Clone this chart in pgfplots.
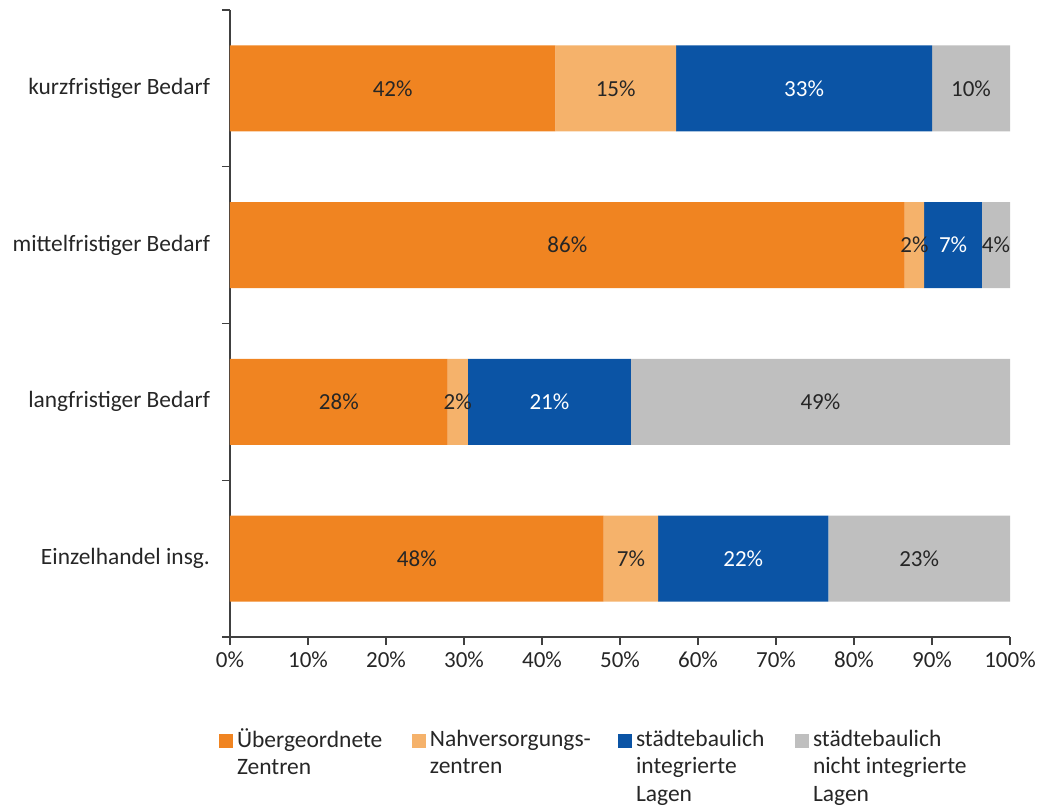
\documentclass[border=0pt]{standalone}
\usepackage{pgfplots}
\pgfplotsset{compat=1.18}
\usepackage{fontspec}
\setmainfont{Carlito}
\definecolor{cOr}{RGB}{240,132,33}
\definecolor{cLo}{RGB}{245,178,107}
\definecolor{cBl}{RGB}{11,84,165}
\definecolor{cGr}{RGB}{191,191,191}
\begin{document}
\begin{tikzpicture}
\path[use as bounding box] (0,0) rectangle (519.5pt,404.5pt);
\begin{axis}[
  at={(115pt,86pt)}, anchor=south west,
  scale only axis, width=390pt, height=313.5pt,
  xbar stacked, bar width=43pt,
  xmin=0, xmax=100, ymin=0.5, ymax=4.5,
  axis x line*=bottom, axis y line*=left,
  axis line style={black!75, line width=0.6pt},
  xtick={0,10,...,100},
  xticklabel={\pgfmathprintnumber{\tick}\%},
  ytick={1,2,3,4},
  yticklabels={Einzelhandel insg., langfristiger Bedarf, mittelfristiger Bedarf, kurzfristiger Bedarf},
  minor ytick={0.5,1.5,2.5,3.5,4.5},
  every major y tick/.style={draw=none},
  tick align=outside,
  major tick length=4pt, minor tick length=4pt,
  tick style={black!75, line width=0.6pt},
  yticklabel style={xshift=-2.5pt, font=\fontsize{11.7}{14}\selectfont},
  xticklabel style={font=\fontsize{11.5}{14}\selectfont},
  ticklabel style={text=black!85},
  /pgf/number format/assume math mode=true,
  point meta=explicit symbolic,
  nodes near coords={\pgfplotspointmeta\%},
  every node near coord/.append style={font=\fontsize{11.5}{14}\selectfont, text=black!85},
  legend columns=4,
  legend style={draw=none, fill=none, inner sep=0pt, outer sep=0pt,
    at={(rel axis cs:-0.0141,-0.146)}, anchor=north west,
    font=\fontsize{11.75}{13.75}\selectfont,
    nodes={inner xsep=0pt, inner ysep=0pt, text=black!85},
    /tikz/every odd column/.style={column sep=2pt}},
  legend image code/.code={\fill[#1] (0pt,-4.1pt) rectangle (7pt,2.9pt);},
]
\addplot[fill=cOr, draw=none] table[meta=l] {
x y l
47.9 1 48
27.9 2 28
86.5 3 86
41.7 4 42
};
\addplot[fill=cLo, draw=none] table[meta=l] {
x y l
7.0 1 7
2.6 2 2
2.5 3 2
15.5 4 15
};
\addplot[fill=cBl, draw=none, every node near coord/.append style={text=white}] table[meta=l] {
x y l
21.8 1 22
20.9 2 21
7.4 3 7
32.8 4 33
};
\addplot[fill=cGr, draw=none] table[meta=l] {
x y l
23.3 1 23
48.6 2 49
3.6 3 4
10.0 4 10
};
\addlegendentry{\parbox[t]{87.5pt}{Übergeordnete\\Zentren}}
\addlegendentry{\parbox[t]{94pt}{Nahversorgungs-\\zentren}}
\addlegendentry{\parbox[t]{79.5pt}{städtebaulich\\integrierte\\Lagen}}
\addlegendentry{\parbox[t]{90pt}{städtebaulich\\nicht integrierte\\Lagen}}
\end{axis}
\end{tikzpicture}
\end{document}
